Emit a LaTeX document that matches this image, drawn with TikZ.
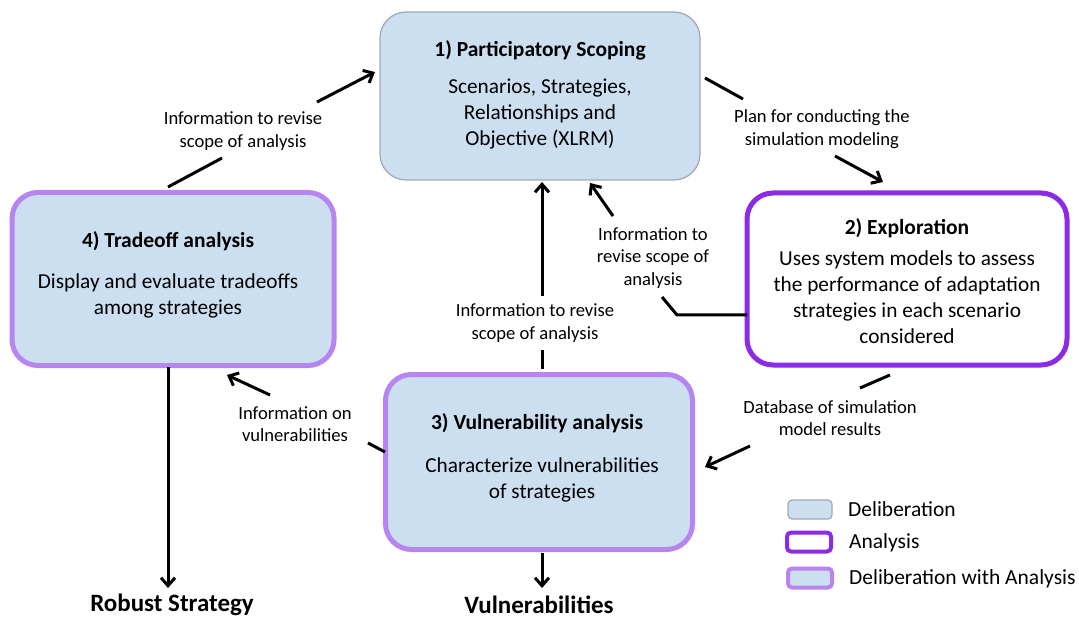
\documentclass[tikz,border=0pt]{standalone}
\usepackage{fontspec}
\setmainfont{Carlito}
\usetikzlibrary{arrows.meta}
\definecolor{delib}{HTML}{CCDFF1}
\definecolor{delibline}{HTML}{A3A8AE}
\definecolor{anaPurple}{HTML}{8B2BE6}
\definecolor{lightPurple}{HTML}{B784F0}
\tikzset{
  box/.style={rounded corners=26pt, inner sep=0pt},
  delibbox/.style={box, fill=delib, draw=delibline, line width=1.2pt},
  anabox/.style={box, fill=white, draw=anaPurple, line width=5pt},
  dwabox/.style={box, fill=delib, draw=lightPurple, line width=5pt},
  ttl/.style={font=\fontsize{21.5}{24}\selectfont\bfseries, align=center, inner sep=0pt},
  body/.style={font=\fontsize{21.3}{26}\selectfont, align=center, inner sep=0pt},
  lbl/.style={font=\fontsize{18.6}{22.5}\selectfont, align=center, inner sep=0pt},
  outtxt/.style={font=\fontsize{25}{28}\selectfont\bfseries, inner sep=0pt},
  conn/.style={line width=3pt},
  arr/.style={line width=3pt, -{Straight Barb[length=8pt,width=14pt,line width=3pt]}},
  legtxt/.style={font=\fontsize{21.5}{24}\selectfont, anchor=west, inner sep=0pt},
}
\begin{document}
\begin{tikzpicture}[x=1pt,y=-1pt]
\useasboundingbox[fill=white] (0,0) rectangle (1079,620);

% boxes
\node[delibbox, minimum width=320pt, minimum height=168pt] (scope) at (540,96) {};
\node[anabox, minimum width=320pt, minimum height=172pt] (explore) at (907,279) {};
\node[dwabox, minimum width=322pt, minimum height=173pt] (trade) at (173,279) {};
\node[dwabox, minimum width=307pt, minimum height=175pt] (vuln) at (539,462) {};

% box texts
\node[ttl] (scopeT) at (540,50) {1) Participatory Scoping};
\node[body] (scopeB) at (540,114) {Scenarios, Strategies,\\Relationships and\\Objective (XLRM)};
\node[ttl] (exploreT) at (907,228) {2) Exploration};
\node[body] (exploreB) at (907,297) {Uses system models to assess\\the performance of adaptation\\strategies in each scenario\\considered};
\node[ttl] (tradeT) at (168,241) {4) Tradeoff analysis};
\node[body] (tradeB) at (168,296) {Display and evaluate tradeoffs\\among strategies};
\node[ttl] (vulnT) at (537,423) {3) Vulnerability analysis};
\node[body] (vulnB) at (542,480) {Characterize vulnerabilities\\of strategies};

% labels
\node[lbl] (l1) at (243,131) {Information to revise\\scope of analysis};
\node[lbl] (l2) at (822,129) {Plan for conducting the\\simulation modeling};
\node[lbl] (l3) at (653,258) {Information to\\revise scope of\\analysis};
\node[lbl] (l4) at (535,323) {Information to revise\\scope of analysis};
\node[lbl] (l5) at (830,418) {Database of simulation\\model results};
\node[lbl] (l6) at (295,424) {Information on\\vulnerabilities};

% outputs
\node[outtxt] (robust) at (172,605) {Robust Strategy};
\node[outtxt] (vulns) at (539,605) {Vulnerabilities};

% connector points
\coordinate (a1s) at (168,187); \coordinate (a1m) at (222,158);
\coordinate (a1n) at (317,102); \coordinate (a1e) at (375,72);
\coordinate (a2s) at (705,78); \coordinate (a2m) at (743,99);
\coordinate (a2n) at (835,156); \coordinate (a2e) at (883,182);
\coordinate (a3s) at (747,315); \coordinate (a3k) at (677,315); \coordinate (a3m) at (662,297);
\coordinate (a3n) at (613,216); \coordinate (a3e) at (590,183);
\coordinate (a4s) at (542,369); \coordinate (a4m) at (542,350);
\coordinate (a4n) at (542,296); \coordinate (a4e) at (542,182);
\coordinate (a5s) at (890,375); \coordinate (a5m) at (860,388);
\coordinate (a5n) at (750,446); \coordinate (a5e) at (705,467);
\coordinate (a6s) at (385,452); \coordinate (a6m) at (368,443);
\coordinate (a6n) at (270,395); \coordinate (a6e) at (227,375);
\coordinate (a7s) at (168,367); \coordinate (a7e) at (168,588);
\coordinate (a8s) at (542,553); \coordinate (a8e) at (542,588);

\draw[conn] (a1s) -- (a1m); \draw[arr] (a1n) -- (a1e);
\draw[conn] (a2s) -- (a2m); \draw[arr] (a2n) -- (a2e);
\draw[conn] (a3s) -- (a3k) -- (a3m); \draw[arr] (a3n) -- (a3e);
\draw[conn] (a4s) -- (a4m); \draw[arr] (a4n) -- (a4e);
\draw[conn] (a5s) -- (a5m); \draw[arr] (a5n) -- (a5e);
\draw[conn] (a6s) -- (a6m); \draw[arr] (a6n) -- (a6e);
\draw[arr] (a7s) -- (a7e);
\draw[arr] (a8s) -- (a8e);

% legend
\node[box, rounded corners=4pt, fill=delib, draw=delibline, line width=1.2pt, minimum width=44pt, minimum height=19pt] (legD) at (810,509.5) {};
\node[box, rounded corners=4pt, fill=white, draw=anaPurple, line width=4pt, minimum width=44pt, minimum height=19pt] (legA) at (809,542) {};
\node[box, rounded corners=4pt, fill=delib, draw=lightPurple, line width=4pt, minimum width=44pt, minimum height=19pt] (legDA) at (810,578) {};
\node[legtxt] (legDt) at (848,509) {Deliberation};
\node[legtxt] (legAt) at (849,543) {Analysis};
\node[legtxt] (legDAt) at (849,579) {Deliberation with Analysis};
\end{tikzpicture}
\end{document}
